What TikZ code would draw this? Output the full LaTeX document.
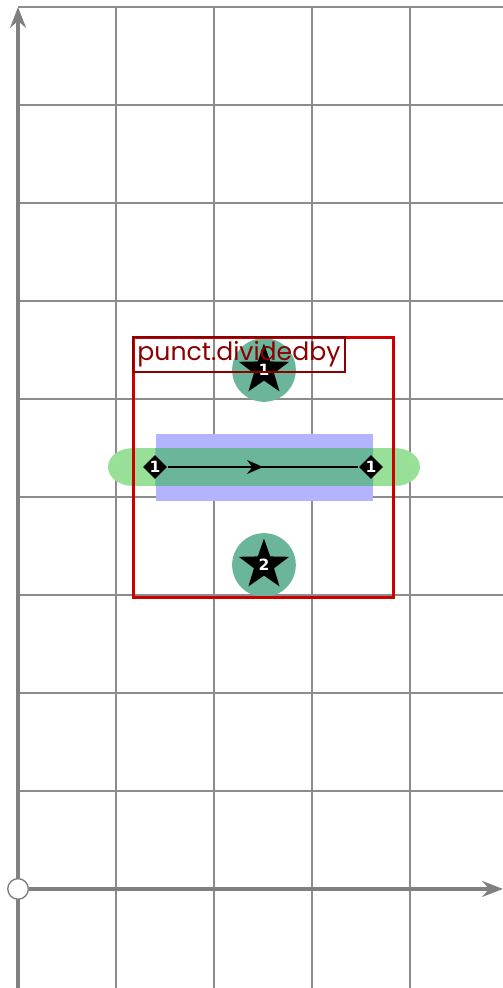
\documentclass[tikz,border=0pt]{standalone}
\usepackage{fontspec}
\newfontfamily\tagfont{Poppins}
\newfontfamily\numfont{DejaVu Sans}
\usetikzlibrary{arrows.meta,positioning,shapes.geometric,decorations.markings}
\definecolor{GridGray}{HTML}{8C8C8C}
\definecolor{AxisGray}{HTML}{808080}
\definecolor{FrameRed}{HTML}{CC0000}
\definecolor{TagRed}{HTML}{8B0000}
\definecolor{SpotTeal}{HTML}{6BB59B}
\definecolor{LeafGreen}{HTML}{98E098}
\definecolor{BandBlue}{HTML}{B3B3FF}
\newcommand\pillpath{(1.168,4.4985) -- (3.852,4.4985)
 arc[start angle=90,end angle=-90,x radius=0.25,y radius=0.1925] -- (1.168,4.1135)
 arc[start angle=270,end angle=90,x radius=0.25,y radius=0.1925] -- cycle}
\tikzset{>=Stealth,gridline/.style={draw=GridGray,line width=0.35pt},
 axis/.style={draw=AxisGray,line width=1.2pt,-{Stealth[length=6pt,width=4.6pt]}},
 spot/.style={circle,fill=SpotTeal,minimum size=6.5mm,inner sep=0},
 starmark/.style={star,star points=5,star point ratio=2.5,fill=black,minimum size=5.4mm,
 inner sep=0,text=white,font=\numfont\fontsize{4.5}{5}\selectfont\bfseries},
 joint/.style={diamond,aspect=1,fill=black,minimum size=2.5mm,inner sep=0,text=white,
 font=\numfont\fontsize{4.5}{5}\selectfont\bfseries},
 frame/.style={draw=FrameRed,line width=0.9pt,minimum width=26.5mm,minimum height=26.5mm},
 tag/.style={draw=TagRed,line width=0.6pt,text=TagRed,inner sep=1.3pt,
 font=\tagfont\fontsize{7.3}{8}\selectfont}}
\begin{document}
\begin{tikzpicture}[x=1cm,y=1cm]
\useasboundingbox (-0.184,-1.011) rectangle (4.949,9.072);
% grid
\foreach \i in {1,...,4} \draw[gridline] (\i,-1.011) -- (\i,9);
\foreach \j in {1,...,9} \draw[gridline] (0,\j) -- (4.949,\j);
% axes
\coordinate (ybot) at (0,-1.011);\coordinate (ytop) at (0,9.0);
\coordinate (xend) at (4.949,0);
\draw[axis] (ybot) -- (ytop);
\node[circle,draw=AxisGray,fill=white,minimum size=2.1mm,inner sep=0,line width=0.4pt] (o) at (0,0){};
\draw[axis] (o) -- (xend);
% shapes
\fill[LeafGreen] \pillpath;
\node[fill=BandBlue,minimum width=22.1mm,minimum height=6.8mm,inner sep=0] (band) at (2.513,4.30){};
\begin{scope}
\clip (band.south west) rectangle (band.north east);
\fill[SpotTeal] \pillpath;
\end{scope}
\node[spot] (c1) at (2.51,5.296){};\node[spot] (c2) at (2.51,3.306){};
\node[joint] (d1) at (1.398,4.306){1};\node[joint] (d2) at (3.602,4.306){1};
\draw[line width=0.8pt,postaction={decorate},decoration={markings,
 mark=at position 0.5 with {\arrow{Stealth[length=4.6pt,width=4pt,inset=1.5pt]}}}] (d1) -- (d2);
\node[starmark] (s1) at (c1){1};\node[starmark] (s2) at (c2){2};
\node[frame] (box) at (2.503,4.30){};
\node[tag,anchor=north west] (lbl) at (box.north west){punct.dividedby};
\end{tikzpicture}
\end{document}
